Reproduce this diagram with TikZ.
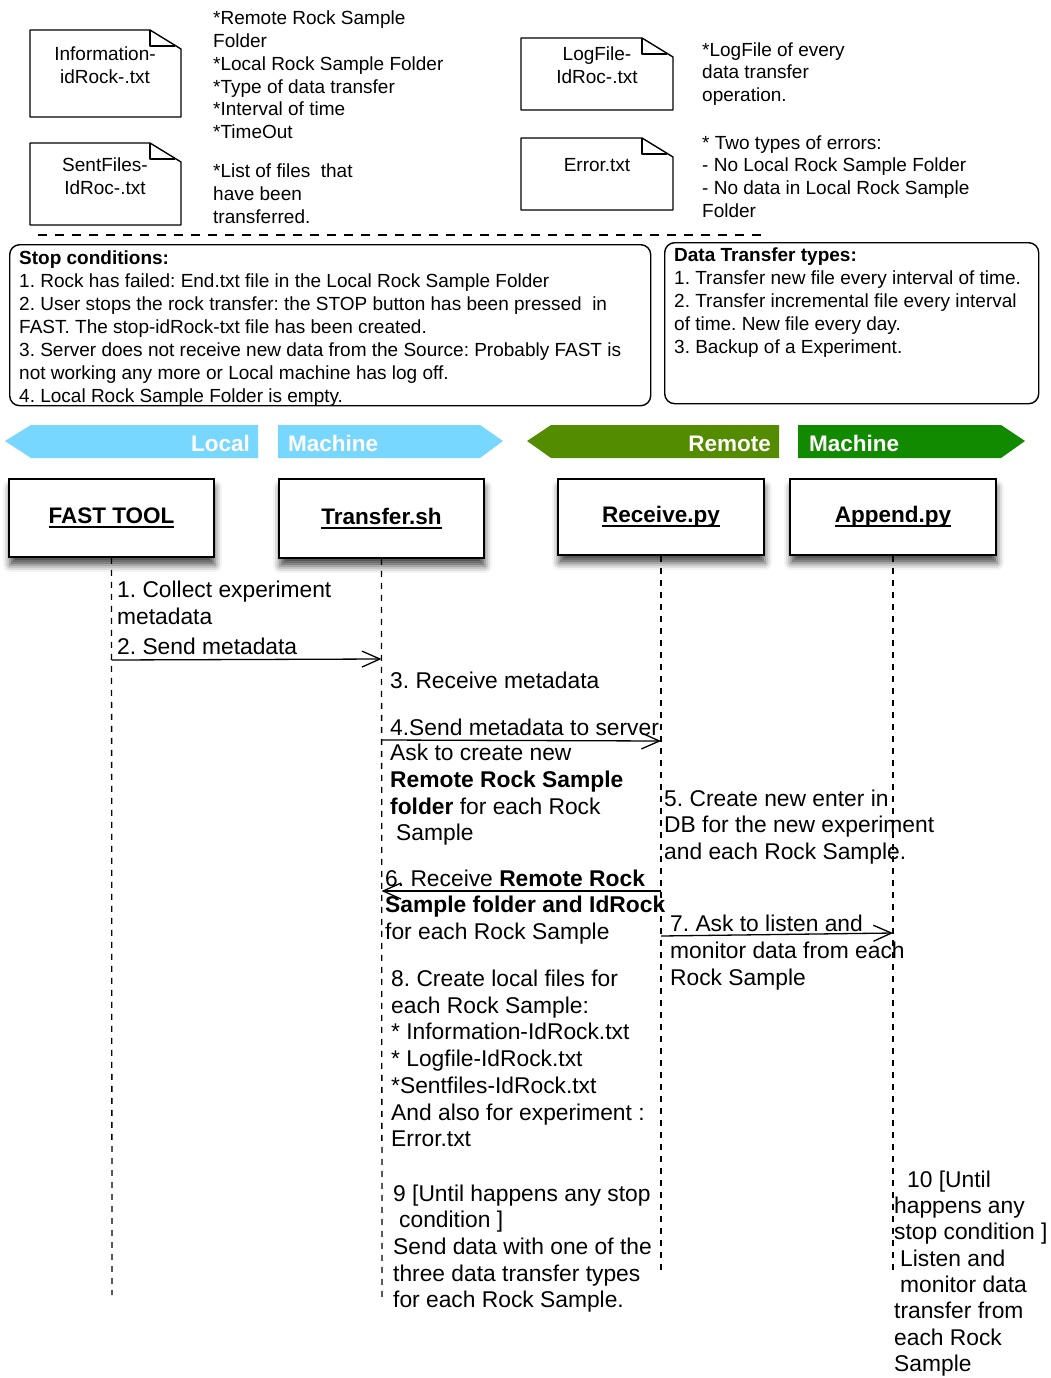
\documentclass[tikz,border=0pt]{standalone}
\usepackage{fontspec}
\setmainfont{Liberation Sans}
\usetikzlibrary{arrows.meta,calc,shadows.blur}
\definecolor{LocalBlue}{RGB}{119,215,255}
\definecolor{RemoteOlive}{RGB}{84,140,0}
\definecolor{RemoteGreen}{RGB}{18,138,0}
\frenchspacing

% underlined actor name
\newcommand{\uln}[1]{\setbox0\hbox{#1}\rlap{\rule[-4pt]{\wd0}{1.8pt}}\box0}
% file with a folded corner: left, top, right, bottom
\newcommand{\docshape}[4]{%
  \draw[doc] (#1,#2) -- ({#3-31},#2) -- (#3,{#2+19}) -- (#3,#4) -- (#1,#4) -- cycle;
  \draw[doc] ({#3-31},#2) -- ({#3-31},{#2+16}) -- ({#3-6},{#2+16});}

\begin{document}
\begin{tikzpicture}[x=1pt,y=-1pt,
  every node/.style={inner sep=0pt},
  doc/.style={line width=1.4pt,line join=round},
  filetxt/.style={align=center,font=\fontsize{19}{23}\selectfont},
  note/.style={anchor=west,align=left,font=\fontsize{19}{22.8}\selectfont},
  panel/.style={draw,line width=1.4pt,rounded corners=10pt,anchor=north west},
  paneltxt/.style={anchor=west,align=left,font=\fontsize{19}{23}\selectfont},
  bannertxt/.style={text=white,font=\fontsize{22.5}{26}\selectfont\bfseries},
  actor/.style={draw,line width=1.6pt,fill=white,font=\fontsize{22.5}{26}\selectfont\bfseries,
    blur shadow={shadow xshift=1pt,shadow yshift=-8pt,shadow blur radius=7pt,shadow opacity=70}},
  life/.style={line width=1.3pt,dash pattern=on 6pt off 6pt},
  msg/.style={line width=1.3pt,-{Straight Barb[length=18pt,width=16pt]}},
  say/.style={anchor=west,align=left,font=\fontsize{22.8}{26.7}\selectfont}]
\useasboundingbox (0,0) rectangle (1051,1378);

% files and what they hold
\docshape{30}{30}{181}{117}
\node[filetxt] (infofile) at (105,65) {Information-\\idRock-.txt};
\docshape{30}{143}{181}{225}
\node[filetxt] (sentfile) at (105,176) {SentFiles-\\IdRoc-.txt};
\docshape{521}{38}{673}{110}
\node[filetxt] (logfile) at (597,65) {LogFile-\\IdRoc-.txt};
\docshape{521}{138}{673}{210}
\node[filetxt] (errfile) at (597,165) {Error.txt};

\node[note] (infonote) at (213,75) {*Remote Rock Sample\\Folder\\*Local Rock Sample Folder\\*Type of data transfer\\*Interval of time\\*TimeOut};
\node[note] (sentnote) at (213,194) {*List of files\ \ that\\have been\\transferred.};
\node[note] (lognote) at (702,74) {*LogFile of every\\data transfer\\operation.};
\node[note] (errnote) at (702,176.5) {* Two types of errors:\\- No Local Rock Sample Folder\\- No data in Local Rock Sample\\Folder};

\draw[line width=1.5pt,dash pattern=on 9pt off 8pt] (38,235) -- (765,235);

% stop conditions and transfer types
\node[panel,minimum width=641,minimum height=161] (stopbox) at (9,244) {};
\node[paneltxt] (stoptxt) at (19,329) {\textbf{Stop conditions:}\\
1. Rock has failed: End.txt file in the Local Rock Sample Folder\\
2. User stops the rock transfer: the STOP button has been pressed\ \ in\\
FAST. The stop-idRock-txt file has been created.\\
3. Server does not receive new data from the Source: Probably FAST is\\
not working any more or Local machine has log off.\\
4. Local Rock Sample Folder is empty.};
\node[panel,minimum width=374,minimum height=161] (typebox) at (664,242) {};
\node[paneltxt] (typetxt) at (674,303) {\textbf{Data Transfer types:}\\
1. Transfer new file every interval of time.\\
2. Transfer incremental file every interval\\
of time. New file every day.\\
3. Backup of a Experiment.};

% machine banners
\fill[LocalBlue] (5,441) -- (31,425) -- (258,425) -- (258,458) -- (31,458) -- cycle;
\fill[LocalBlue] (278,425) -- (480,425) -- (503,441) -- (480,458) -- (278,458) -- cycle;
\fill[RemoteOlive] (527,441) -- (551,425) -- (779,425) -- (779,458) -- (551,458) -- cycle;
\fill[RemoteGreen] (798,425) -- (1001,425) -- (1025,441) -- (1001,458) -- (798,458) -- cycle;
\node[bannertxt,anchor=east] (localtxt) at (250,443.5) {Local};
\node[bannertxt,anchor=west] (lmachtxt) at (288,443.5) {Machine};
\node[bannertxt,anchor=east] (remotetxt) at (771,443.5) {Remote};
\node[bannertxt,anchor=west] (rmachtxt) at (809,443.5) {Machine};

% actors
\node[actor,minimum width=205,minimum height=78] (fast) at (111.5,518) {\uln{FAST TOOL}};
\node[actor,minimum width=205,minimum height=79] (transfer) at (381.5,518.5) {\uln{Transfer.sh}};
\node[actor,minimum width=206,minimum height=76] (receive) at (661,517) {\uln{Receive.py}};
\node[actor,minimum width=206,minimum height=76] (append) at (893,517) {\uln{Append.py}};

% lifelines
\coordinate (fastend) at (112,1295);
\coordinate (transferend) at (382,1300);
\coordinate (receiveend) at (661,1272);
\coordinate (appendend) at (893,1275);
\draw[life] (fast.south) -- (fastend);
\draw[life] (transfer.south) -- (transferend);
\draw[life] (receive.south) -- (receiveend);
\draw[life] (append.south) -- (appendend);

% messages
\node[say] (collect) at (117,603) {1. Collect experiment\\metadata};
\node[say] (sendmeta) at (117,646) {2. Send metadata};
\draw[msg] (fast.south |- 0,660) -- (transfer.south |- 0,659);
\node[say] (recvmeta) at (390,680) {3. Receive metadata};
\node[say] (toserver) at (390,727) {4.Send metadata to server};
\draw[msg] (transfer.south |- 0,740) -- (receive.south |- 0,741);
\node[say] (askfolder) at (390,795) {Ask to create new\\\textbf{Remote Rock Sample}\\\textbf{folder} for each Rock\\\hspace*{6pt}Sample};
\node[say] (newenter) at (664,827) {5. Create new enter in\\DB for the new experiment\\and each Rock Sample.};
\node[say] (recvfolder) at (385,907) {6. Receive \textbf{Remote Rock}\\\textbf{Sample folder and IdRock}\\for each Rock Sample};
\draw[msg] (receive.south |- 0,891) -- (transfer.south |- 0,891);
\node[say] (listen) at (670,952.5) {7. Ask to listen and\\monitor data from each\\Rock Sample};
\draw[msg] (receive.south |- 0,936) -- (append.south |- 0,933);
\node[say] (localfiles) at (391,1058.5) {8. Create local files for\\each Rock Sample:\\* Information-IdRock.txt\\* Logfile-IdRock.txt\\*Sentfiles-IdRock.txt\\And also for experiment :\\Error.txt};
\node[say] (senddata) at (393,1248.5) {9 [Until happens any stop\\\hspace*{6pt}condition ]\\Send data with one of the\\three data transfer types\\for each Rock Sample.};
\node[say,font=\fontsize{22.8}{26.3}\selectfont] (monitor) at (894,1273.5) {\hspace*{13pt}10 [Until\\happens any\\stop condition ]\\\hspace*{6pt}Listen and\\\hspace*{6pt}monitor data\\transfer from\\each Rock\\Sample};
\end{tikzpicture}
\end{document}
